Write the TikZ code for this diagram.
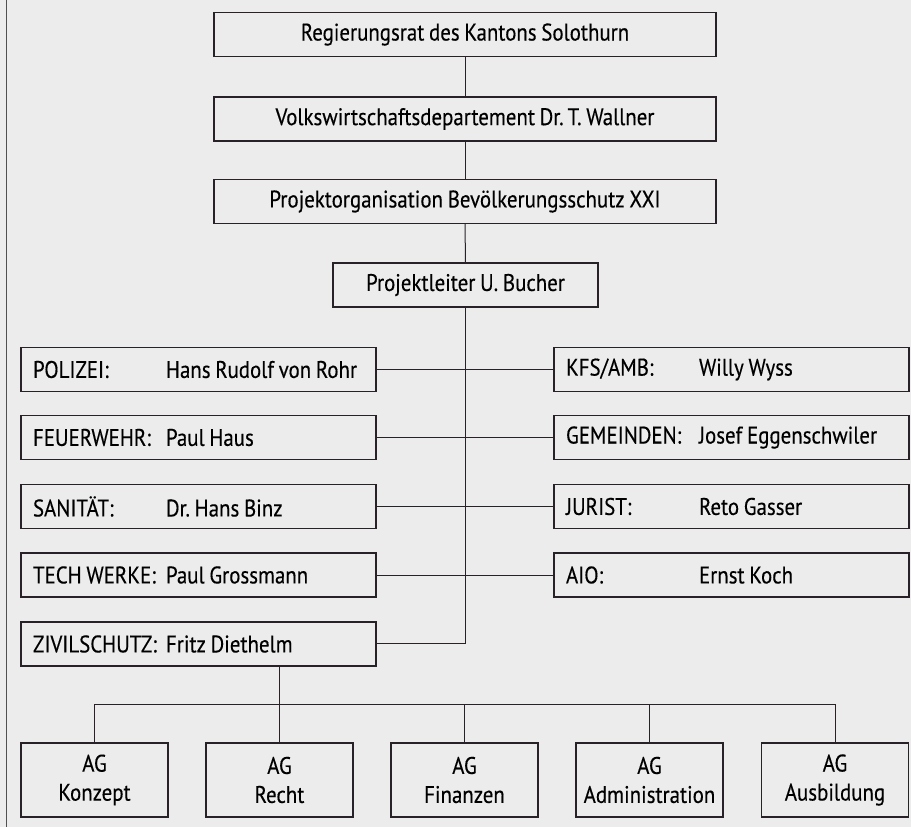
\documentclass[tikz,border=0pt]{standalone}
\usepackage{fontspec}
\setmainfont{PT Sans}[FakeStretch=0.87,FakeBold=0.3,WordSpace=0.85]
\definecolor{paper}{RGB}{236,236,236}
\definecolor{ink}{RGB}{40,34,40}
\begin{document}
\frenchspacing
\begin{tikzpicture}[x=1pt,y=-1pt,
  box/.style={draw=ink,line width=1.3pt,inner sep=0pt,font=\fontsize{24}{27}\selectfont,text=black},
  topbox/.style={box,minimum width=502pt,minimum height=44pt},
  sidebox/.style={box,minimum width=355pt,minimum height=44pt},
  agbox/.style={box,minimum width=147pt,minimum height=74pt,align=center,font=\fontsize{24}{29}\selectfont},
  link/.style={draw=ink,line width=1pt}]
\fill[paper] (0,0) rectangle (911,827);
\useasboundingbox (0,0) rectangle (911,827);
\draw[ink!80,line width=1pt] (6.5,0) -- (6.5,827);
\newcommand{\entry}[2]{\makebox[331pt][l]{\makebox[133pt][l]{#1}#2}}
% top chain
\node[topbox] (rr) at (465,34.5) {Regierungsrat des Kantons Solothurn};
\node[topbox] (vd) at (465,119) {Volkswirtschaftsdepartement Dr.\,T. Wallner};
\node[topbox] (po) at (465,201.5) {Projektorganisation Bevölkerungsschutz XXI};
\node[box,minimum width=265pt,minimum height=44pt] (pl) at (465.5,285) {Projektleiter U. Bucher};
% left column
\node[sidebox] (pol) at (198.5,369.5) {\entry{POLIZEI:}{Hans Rudolf von Rohr}};
\node[sidebox] (feu) at (198.5,437.5) {\entry{FEUERWEHR:}{Paul Haus}};
\node[sidebox] (san) at (198.5,506.5) {\entry{SANITÄT:}{Dr. Hans Binz}};
\node[sidebox] (tec) at (198.5,575) {\entry{TECH WERKE:}{Paul Grossmann}};
\node[sidebox] (ziv) at (198.5,644) {\entry{ZIVILSCHUTZ:}{Fritz Diethelm}};
% right column
\node[sidebox] (kfs) at (731.5,369.5) {\entry{KFS/AMB:}{Willy Wyss}};
\node[sidebox] (gem) at (731.5,437.5) {\entry{GEMEINDEN:}{Josef Eggenschwiler}};
\node[sidebox] (jur) at (731.5,506.5) {\entry{JURIST:}{Reto Gasser}};
\node[sidebox] (aio) at (731.5,575) {\entry{AIO:}{Ernst Koch}};
% AG boxes
\node[agbox] (ag1) at (94.5,780) {AG\\Konzept};
\node[agbox] (ag2) at (279.5,780) {AG\\Recht};
\node[agbox] (ag3) at (464.5,780) {AG\\Finanzen};
\node[agbox] (ag4) at (649.5,780) {AG\\Administration};
\node[agbox] (ag5) at (835,780) {AG\\Ausbildung};
% connectors
\coordinate (trunkend) at (465,643);
\coordinate (bus) at (0,704);
\draw[link] (rr.south) -- (vd.north);
\draw[link] (vd.south) -- (po.north);
\draw[link] (po.south) -- (pl.north);
\draw[link] (pl.south -| trunkend) -- (trunkend) -- (trunkend -| ziv.east);
\draw[link] (pol.east) -- (kfs.west);
\draw[link] (feu.east) -- (gem.west);
\draw[link] (san.east) -- (jur.west);
\draw[link] (tec.east) -- (aio.west);
\draw[link] (ziv.south -| ag2.north) -- (ag2.north);
\draw[link] (ag1.north) -- (ag1.north |- bus) -- (ag5.north |- bus) -- (ag5.north);
\draw[link] (ag3.north |- bus) -- (ag3.north);
\draw[link] (ag4.north |- bus) -- (ag4.north);
\end{tikzpicture}
\end{document}
